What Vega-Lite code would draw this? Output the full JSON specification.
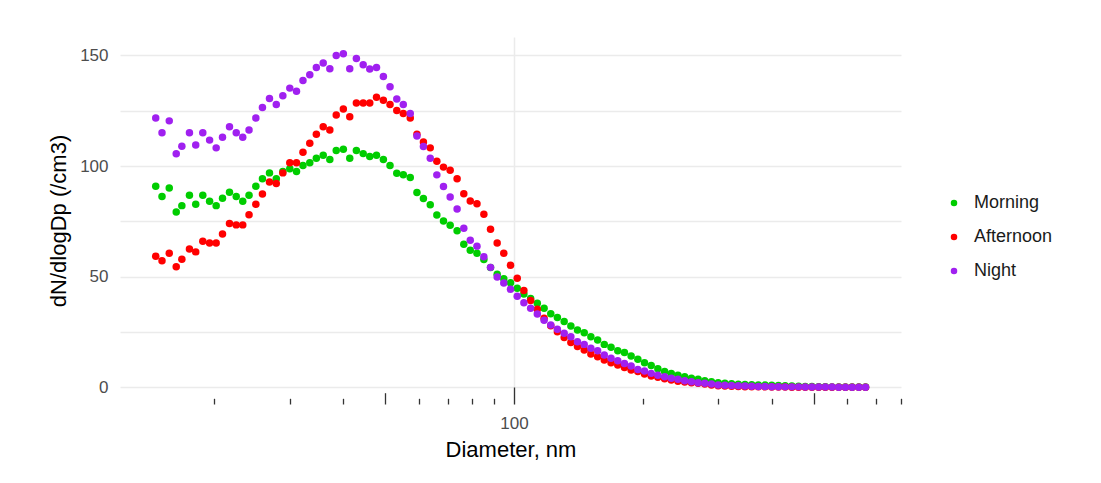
{
  "$schema": "https://vega.github.io/schema/vega-lite/v6.json",
  "autosize": {"type": "none"},
  "padding": {"left": 120, "top": 37, "right": 200, "bottom": 79},
  "width": 781,
  "height": 367,
  "background": "white",
  "config": {
    "font": "Liberation Sans",
    "view": {"stroke": null}
  },
  "data": {"values": [
{"dp":14.6,"period":"Morning","conc":90.9},{"dp":15.1,"period":"Morning","conc":86.2},{"dp":15.7,"period":"Morning","conc":90.1},{"dp":16.3,"period":"Morning","conc":79.2},{"dp":16.8,"period":"Morning","conc":82.1},{"dp":17.5,"period":"Morning","conc":86.8},{"dp":18.1,"period":"Morning","conc":82.7},{"dp":18.8,"period":"Morning","conc":86.8},{"dp":19.5,"period":"Morning","conc":84.1},{"dp":20.2,"period":"Morning","conc":82.1},
{"dp":20.9,"period":"Morning","conc":85.4},{"dp":21.7,"period":"Morning","conc":88.1},{"dp":22.5,"period":"Morning","conc":86.2},{"dp":23.3,"period":"Morning","conc":84.1},{"dp":24.1,"period":"Morning","conc":86.8},{"dp":25.0,"period":"Morning","conc":90.9},{"dp":25.9,"period":"Morning","conc":94.2},{"dp":26.9,"period":"Morning","conc":96.9},{"dp":27.9,"period":"Morning","conc":94.2},{"dp":28.9,"period":"Morning","conc":97.5},
{"dp":30.0,"period":"Morning","conc":98.8},{"dp":31.1,"period":"Morning","conc":97.5},{"dp":32.2,"period":"Morning","conc":100.2},{"dp":33.4,"period":"Morning","conc":101.5},{"dp":34.6,"period":"Morning","conc":103.5},{"dp":35.9,"period":"Morning","conc":104.9},{"dp":37.2,"period":"Morning","conc":102.9},{"dp":38.5,"period":"Morning","conc":107.0},{"dp":40.0,"period":"Morning","conc":107.6},{"dp":41.4,"period":"Morning","conc":103.5},
{"dp":42.9,"period":"Morning","conc":107.0},{"dp":44.5,"period":"Morning","conc":105.6},{"dp":46.1,"period":"Morning","conc":104.3},{"dp":47.8,"period":"Morning","conc":104.9},{"dp":49.6,"period":"Morning","conc":102.9},{"dp":51.4,"period":"Morning","conc":100.2},{"dp":53.3,"period":"Morning","conc":96.7},{"dp":55.2,"period":"Morning","conc":96.1},{"dp":57.3,"period":"Morning","conc":94.8},{"dp":59.4,"period":"Morning","conc":88.0},
{"dp":61.5,"period":"Morning","conc":85.3},{"dp":63.8,"period":"Morning","conc":82.5},{"dp":66.1,"period":"Morning","conc":77.9},{"dp":68.5,"period":"Morning","conc":75.2},{"dp":71.0,"period":"Morning","conc":73.2},{"dp":73.7,"period":"Morning","conc":70.8},{"dp":76.4,"period":"Morning","conc":64.6},{"dp":79.1,"period":"Morning","conc":61.9},{"dp":82.0,"period":"Morning","conc":60.6},{"dp":85.1,"period":"Morning","conc":57.8},
{"dp":88.2,"period":"Morning","conc":54.1},{"dp":91.4,"period":"Morning","conc":51.1},{"dp":94.7,"period":"Morning","conc":49.1},{"dp":98.2,"period":"Morning","conc":47.2},{"dp":101.8,"period":"Morning","conc":44.8},{"dp":105.5,"period":"Morning","conc":42.2},{"dp":109.4,"period":"Morning","conc":40.1},{"dp":113.4,"period":"Morning","conc":38.0},{"dp":117.6,"period":"Morning","conc":35.7},{"dp":121.9,"period":"Morning","conc":33.2},
{"dp":126.3,"period":"Morning","conc":31.6},{"dp":131.0,"period":"Morning","conc":29.7},{"dp":135.8,"period":"Morning","conc":27.7},{"dp":140.7,"period":"Morning","conc":25.9},{"dp":145.9,"period":"Morning","conc":24.7},{"dp":151.2,"period":"Morning","conc":22.9},{"dp":156.8,"period":"Morning","conc":21.4},{"dp":162.5,"period":"Morning","conc":19.4},{"dp":168.5,"period":"Morning","conc":18.1},{"dp":174.7,"period":"Morning","conc":16.5},
{"dp":181.1,"period":"Morning","conc":15.7},{"dp":187.7,"period":"Morning","conc":14.1},{"dp":194.6,"period":"Morning","conc":12.7},{"dp":201.7,"period":"Morning","conc":11.1},{"dp":209.1,"period":"Morning","conc":9.9},{"dp":216.7,"period":"Morning","conc":8.4},{"dp":224.7,"period":"Morning","conc":7.2},{"dp":232.9,"period":"Morning","conc":6.3},{"dp":241.4,"period":"Morning","conc":5.4},{"dp":250.3,"period":"Morning","conc":4.8},
{"dp":259.5,"period":"Morning","conc":4.1},{"dp":269.0,"period":"Morning","conc":3.6},{"dp":278.8,"period":"Morning","conc":3.0},{"dp":289.0,"period":"Morning","conc":2.5},{"dp":299.6,"period":"Morning","conc":2.1},{"dp":310.6,"period":"Morning","conc":1.8},{"dp":322.0,"period":"Morning","conc":1.6},{"dp":333.8,"period":"Morning","conc":1.4},{"dp":346.0,"period":"Morning","conc":1.3},{"dp":358.7,"period":"Morning","conc":1.2},
{"dp":371.8,"period":"Morning","conc":1.1},{"dp":385.4,"period":"Morning","conc":1.0},{"dp":399.5,"period":"Morning","conc":0.9},{"dp":414.2,"period":"Morning","conc":0.8},{"dp":429.4,"period":"Morning","conc":0.7},{"dp":445.1,"period":"Morning","conc":0.6},{"dp":461.4,"period":"Morning","conc":0.5},{"dp":478.3,"period":"Morning","conc":0.4},{"dp":495.8,"period":"Morning","conc":0.4},{"dp":514.0,"period":"Morning","conc":0.3},
{"dp":532.8,"period":"Morning","conc":0.3},{"dp":552.3,"period":"Morning","conc":0.2},{"dp":572.5,"period":"Morning","conc":0.2},{"dp":593.5,"period":"Morning","conc":0.1},{"dp":615.3,"period":"Morning","conc":0.1},{"dp":637.8,"period":"Morning","conc":0.1},{"dp":661.2,"period":"Morning","conc":0.1},
{"dp":14.6,"period":"Afternoon","conc":59.2},{"dp":15.1,"period":"Afternoon","conc":57.2},{"dp":15.7,"period":"Afternoon","conc":60.6},{"dp":16.3,"period":"Afternoon","conc":54.5},{"dp":16.8,"period":"Afternoon","conc":57.9},{"dp":17.5,"period":"Afternoon","conc":62.5},{"dp":18.1,"period":"Afternoon","conc":61.2},{"dp":18.8,"period":"Afternoon","conc":66.0},{"dp":19.5,"period":"Afternoon","conc":65.2},{"dp":20.2,"period":"Afternoon","conc":65.2},
{"dp":20.9,"period":"Afternoon","conc":69.3},{"dp":21.7,"period":"Afternoon","conc":74.0},{"dp":22.5,"period":"Afternoon","conc":73.4},{"dp":23.3,"period":"Afternoon","conc":73.4},{"dp":24.1,"period":"Afternoon","conc":78.0},{"dp":25.0,"period":"Afternoon","conc":82.7},{"dp":25.9,"period":"Afternoon","conc":87.4},{"dp":26.9,"period":"Afternoon","conc":92.8},{"dp":27.9,"period":"Afternoon","conc":92.1},{"dp":28.9,"period":"Afternoon","conc":96.9},
{"dp":30.0,"period":"Afternoon","conc":101.5},{"dp":31.1,"period":"Afternoon","conc":101.5},{"dp":32.2,"period":"Afternoon","conc":106.2},{"dp":33.4,"period":"Afternoon","conc":110.3},{"dp":34.6,"period":"Afternoon","conc":114.4},{"dp":35.9,"period":"Afternoon","conc":117.7},{"dp":37.2,"period":"Afternoon","conc":116.3},{"dp":38.5,"period":"Afternoon","conc":123.1},{"dp":40.0,"period":"Afternoon","conc":125.8},{"dp":41.4,"period":"Afternoon","conc":122.3},
{"dp":42.9,"period":"Afternoon","conc":128.5},{"dp":44.5,"period":"Afternoon","conc":128.5},{"dp":46.1,"period":"Afternoon","conc":128.5},{"dp":47.8,"period":"Afternoon","conc":131.1},{"dp":49.6,"period":"Afternoon","conc":129.7},{"dp":51.4,"period":"Afternoon","conc":127.8},{"dp":53.3,"period":"Afternoon","conc":125.1},{"dp":55.2,"period":"Afternoon","conc":123.7},{"dp":57.3,"period":"Afternoon","conc":121.7},{"dp":59.4,"period":"Afternoon","conc":114.4},
{"dp":61.5,"period":"Afternoon","conc":110.9},{"dp":63.8,"period":"Afternoon","conc":108.2},{"dp":66.1,"period":"Afternoon","conc":102.2},{"dp":68.5,"period":"Afternoon","conc":99.5},{"dp":71.0,"period":"Afternoon","conc":98.1},{"dp":73.7,"period":"Afternoon","conc":94.2},{"dp":76.4,"period":"Afternoon","conc":87.5},{"dp":79.1,"period":"Afternoon","conc":84.2},{"dp":82.0,"period":"Afternoon","conc":82.9},{"dp":85.1,"period":"Afternoon","conc":78.2},
{"dp":88.2,"period":"Afternoon","conc":71.4},{"dp":91.4,"period":"Afternoon","conc":65.2},{"dp":94.7,"period":"Afternoon","conc":60.6},{"dp":98.2,"period":"Afternoon","conc":55.2},{"dp":101.8,"period":"Afternoon","conc":49.3},{"dp":105.5,"period":"Afternoon","conc":43.8},{"dp":109.4,"period":"Afternoon","conc":39.2},{"dp":113.4,"period":"Afternoon","conc":35.3},{"dp":117.6,"period":"Afternoon","conc":31.2},{"dp":121.9,"period":"Afternoon","conc":27.8},
{"dp":126.3,"period":"Afternoon","conc":25.1},{"dp":131.0,"period":"Afternoon","conc":22.5},{"dp":135.8,"period":"Afternoon","conc":20.2},{"dp":140.7,"period":"Afternoon","conc":18.4},{"dp":145.9,"period":"Afternoon","conc":16.9},{"dp":151.2,"period":"Afternoon","conc":15.1},{"dp":156.8,"period":"Afternoon","conc":13.8},{"dp":162.5,"period":"Afternoon","conc":12.3},{"dp":168.5,"period":"Afternoon","conc":11.1},{"dp":174.7,"period":"Afternoon","conc":10.1},
{"dp":181.1,"period":"Afternoon","conc":9.0},{"dp":187.7,"period":"Afternoon","conc":7.8},{"dp":194.6,"period":"Afternoon","conc":7.1},{"dp":201.7,"period":"Afternoon","conc":6.0},{"dp":209.1,"period":"Afternoon","conc":5.1},{"dp":216.7,"period":"Afternoon","conc":4.5},{"dp":224.7,"period":"Afternoon","conc":3.9},{"dp":232.9,"period":"Afternoon","conc":3.3},{"dp":241.4,"period":"Afternoon","conc":2.7},{"dp":250.3,"period":"Afternoon","conc":2.4},
{"dp":259.5,"period":"Afternoon","conc":2.1},{"dp":269.0,"period":"Afternoon","conc":1.8},{"dp":278.8,"period":"Afternoon","conc":1.5},{"dp":289.0,"period":"Afternoon","conc":1.0},{"dp":299.6,"period":"Afternoon","conc":0.7},{"dp":310.6,"period":"Afternoon","conc":0.6},{"dp":322.0,"period":"Afternoon","conc":0.5},{"dp":333.8,"period":"Afternoon","conc":0.4},{"dp":346.0,"period":"Afternoon","conc":0.3},{"dp":358.7,"period":"Afternoon","conc":0.3},
{"dp":371.8,"period":"Afternoon","conc":0.2},{"dp":385.4,"period":"Afternoon","conc":0.2},{"dp":399.5,"period":"Afternoon","conc":0.1},{"dp":414.2,"period":"Afternoon","conc":0.1},{"dp":429.4,"period":"Afternoon","conc":0.1},{"dp":445.1,"period":"Afternoon","conc":0.0},{"dp":461.4,"period":"Afternoon","conc":0.0},{"dp":478.3,"period":"Afternoon","conc":0.0},{"dp":495.8,"period":"Afternoon","conc":0.0},{"dp":514.0,"period":"Afternoon","conc":0.0},
{"dp":532.8,"period":"Afternoon","conc":0.0},{"dp":552.3,"period":"Afternoon","conc":0.0},{"dp":572.5,"period":"Afternoon","conc":0.0},{"dp":593.5,"period":"Afternoon","conc":0.0},{"dp":615.3,"period":"Afternoon","conc":0.0},{"dp":637.8,"period":"Afternoon","conc":0.0},{"dp":661.2,"period":"Afternoon","conc":0.0},
{"dp":14.6,"period":"Night","conc":121.7},{"dp":15.1,"period":"Night","conc":115.0},{"dp":15.7,"period":"Night","conc":120.4},{"dp":16.3,"period":"Night","conc":105.5},{"dp":16.8,"period":"Night","conc":108.9},{"dp":17.5,"period":"Night","conc":115.0},{"dp":18.1,"period":"Night","conc":109.5},{"dp":18.8,"period":"Night","conc":115.0},{"dp":19.5,"period":"Night","conc":111.7},{"dp":20.2,"period":"Night","conc":108.2},
{"dp":20.9,"period":"Night","conc":113.0},{"dp":21.7,"period":"Night","conc":117.7},{"dp":22.5,"period":"Night","conc":115.0},{"dp":23.3,"period":"Night","conc":113.0},{"dp":24.1,"period":"Night","conc":116.3},{"dp":25.0,"period":"Night","conc":121.7},{"dp":25.9,"period":"Night","conc":126.4},{"dp":26.9,"period":"Night","conc":130.5},{"dp":27.9,"period":"Night","conc":127.8},{"dp":28.9,"period":"Night","conc":131.8},
{"dp":30.0,"period":"Night","conc":135.2},{"dp":31.1,"period":"Night","conc":133.8},{"dp":32.2,"period":"Night","conc":138.6},{"dp":33.4,"period":"Night","conc":141.2},{"dp":34.6,"period":"Night","conc":144.5},{"dp":35.9,"period":"Night","conc":146.6},{"dp":37.2,"period":"Night","conc":143.9},{"dp":38.5,"period":"Night","conc":149.9},{"dp":40.0,"period":"Night","conc":150.7},{"dp":41.4,"period":"Night","conc":143.9},
{"dp":42.9,"period":"Night","conc":148.6},{"dp":44.5,"period":"Night","conc":145.8},{"dp":46.1,"period":"Night","conc":143.8},{"dp":47.8,"period":"Night","conc":144.5},{"dp":49.6,"period":"Night","conc":140.4},{"dp":51.4,"period":"Night","conc":135.8},{"dp":53.3,"period":"Night","conc":130.3},{"dp":55.2,"period":"Night","conc":127.8},{"dp":57.3,"period":"Night","conc":123.7},{"dp":59.4,"period":"Night","conc":113.6},
{"dp":61.5,"period":"Night","conc":108.8},{"dp":63.8,"period":"Night","conc":103.5},{"dp":66.1,"period":"Night","conc":96.0},{"dp":68.5,"period":"Night","conc":90.7},{"dp":71.0,"period":"Night","conc":86.0},{"dp":73.7,"period":"Night","conc":80.6},{"dp":76.4,"period":"Night","conc":71.9},{"dp":79.1,"period":"Night","conc":66.5},{"dp":82.0,"period":"Night","conc":63.8},{"dp":85.1,"period":"Night","conc":59.0},
{"dp":88.2,"period":"Night","conc":54.2},{"dp":91.4,"period":"Night","conc":49.8},{"dp":94.7,"period":"Night","conc":47.1},{"dp":98.2,"period":"Night","conc":44.3},{"dp":101.8,"period":"Night","conc":41.2},{"dp":105.5,"period":"Night","conc":38.2},{"dp":109.4,"period":"Night","conc":35.7},{"dp":113.4,"period":"Night","conc":33.1},{"dp":117.6,"period":"Night","conc":30.3},{"dp":121.9,"period":"Night","conc":28.2},
{"dp":126.3,"period":"Night","conc":26.2},{"dp":131.0,"period":"Night","conc":24.4},{"dp":135.8,"period":"Night","conc":22.9},{"dp":140.7,"period":"Night","conc":20.6},{"dp":145.9,"period":"Night","conc":19.4},{"dp":151.2,"period":"Night","conc":17.6},{"dp":156.8,"period":"Night","conc":16.5},{"dp":162.5,"period":"Night","conc":14.6},{"dp":168.5,"period":"Night","conc":13.1},{"dp":174.7,"period":"Night","conc":12.0},
{"dp":181.1,"period":"Night","conc":10.8},{"dp":187.7,"period":"Night","conc":9.6},{"dp":194.6,"period":"Night","conc":8.1},{"dp":201.7,"period":"Night","conc":7.4},{"dp":209.1,"period":"Night","conc":6.3},{"dp":216.7,"period":"Night","conc":5.4},{"dp":224.7,"period":"Night","conc":4.8},{"dp":232.9,"period":"Night","conc":4.1},{"dp":241.4,"period":"Night","conc":3.6},{"dp":250.3,"period":"Night","conc":3.0},
{"dp":259.5,"period":"Night","conc":2.5},{"dp":269.0,"period":"Night","conc":2.1},{"dp":278.8,"period":"Night","conc":1.8},{"dp":289.0,"period":"Night","conc":1.5},{"dp":299.6,"period":"Night","conc":1.0},{"dp":310.6,"period":"Night","conc":0.9},{"dp":322.0,"period":"Night","conc":0.8},{"dp":333.8,"period":"Night","conc":0.7},{"dp":346.0,"period":"Night","conc":0.6},{"dp":358.7,"period":"Night","conc":0.5},
{"dp":371.8,"period":"Night","conc":0.4},{"dp":385.4,"period":"Night","conc":0.4},{"dp":399.5,"period":"Night","conc":0.3},{"dp":414.2,"period":"Night","conc":0.3},{"dp":429.4,"period":"Night","conc":0.2},{"dp":445.1,"period":"Night","conc":0.2},{"dp":461.4,"period":"Night","conc":0.2},{"dp":478.3,"period":"Night","conc":0.1},{"dp":495.8,"period":"Night","conc":0.1},{"dp":514.0,"period":"Night","conc":0.1},
{"dp":532.8,"period":"Night","conc":0.1},{"dp":552.3,"period":"Night","conc":0.1},{"dp":572.5,"period":"Night","conc":0.0},{"dp":593.5,"period":"Night","conc":0.0},{"dp":615.3,"period":"Night","conc":0.0},{"dp":637.8,"period":"Night","conc":0.0},{"dp":661.2,"period":"Night","conc":0.0}
  ]},
  "mark": {"type": "point", "filled": true, "opacity": 1, "size": 56},
  "encoding": {
    "x": {
      "field": "dp", "type": "quantitative",
      "scale": {"type": "log", "domain": [12.05, 800], "nice": false},
      "axis": {
        "title": "Diameter, nm",
        "values": [20,30,40,50,60,70,80,90,100,200,300,400,500,600,700,800],
        "labelExpr": "datum.value == 100 ? '100' : ''",
        "domain": false,
        "ticks": true,
        "tickColor": "#333333",
        "tickWidth": 1.3,
        "tickSize": {"condition": [{"test": "datum.value == 100", "value": -17}, {"test": "datum.value == 50 || datum.value == 500", "value": -11.3}], "value": -5.7},
        "grid": true,
        "gridColor": "#EBEBEB",
        "gridWidth": 1.5,
        "gridOpacity": {"condition": {"test": "datum.value == 100", "value": 1}, "value": 0},
        "labelFontSize": 17,
        "labelColor": "#4D4D4D",
        "labelPadding": 28,
        "labelFlush": false,
        "labelOverlap": false,
        "titleFontSize": 22,
        "titleFontWeight": "normal",
        "titleColor": "#000000",
        "titlePadding": -3
      }
    },
    "y": {
      "field": "conc", "type": "quantitative",
      "scale": {"domain": [-7.54, 158.3], "nice": false, "zero": false},
      "axis": {
        "title": "dN/dlogDp (/cm3)",
        "values": [0,25,50,75,100,125,150],
        "labelExpr": "datum.value % 50 == 0 ? datum.label : ''",
        "domain": false,
        "ticks": false,
        "grid": true,
        "gridColor": "#EBEBEB",
        "gridWidth": 1.5,
        "labelFontSize": 17,
        "labelColor": "#4D4D4D",
        "labelPadding": 12,
        "titleFontSize": 22,
        "titleFontWeight": "normal",
        "titleColor": "#000000",
        "titlePadding": 9
      }
    },
    "color": {
      "field": "period", "type": "nominal",
      "scale": {"domain": ["Morning", "Afternoon", "Night"], "range": ["#00CD00", "#FF0000", "#A020F0"]},
      "legend": {
        "title": null,
        "orient": "none",
        "legendX": 825,
        "legendY": 157,
        "symbolType": "circle",
        "symbolSize": 42,
        "labelFontSize": 18,
        "labelColor": "#1A1A1A",
        "labelOffset": 11,
        "rowPadding": 16
      }
    }
  }
}
